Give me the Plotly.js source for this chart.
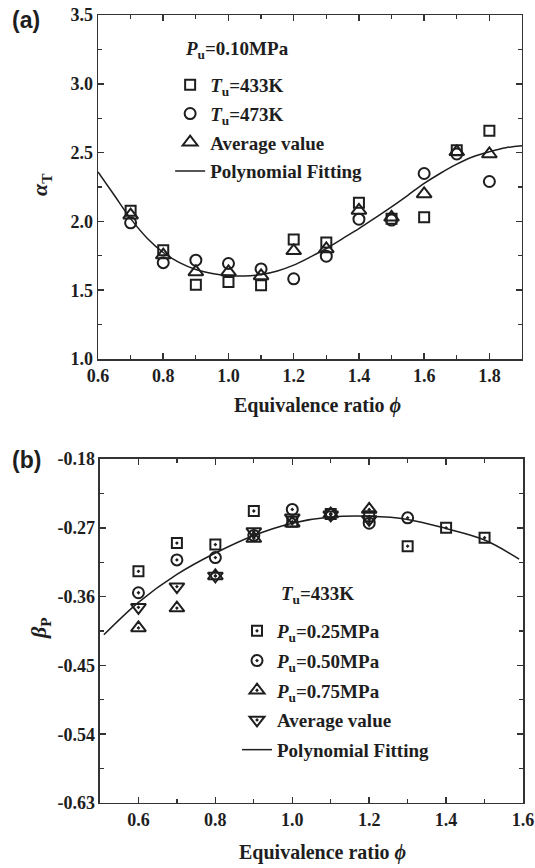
<!DOCTYPE html>
<html>
<head>
<meta charset="utf-8">
<script src="https://cdn.plot.ly/plotly-3.0.1.min.js"></script>
<style>html,body{margin:0;padding:0;background:#fff;}#chart{width:535px;height:868px;}</style>
</head>
<body>
<div id="chart"></div>
<script>
// ---------- Panel (a) data ----------
const phiA = [0.7, 0.8, 0.9, 1.0, 1.1, 1.2, 1.3, 1.4, 1.5, 1.6, 1.7, 1.8];
const alpha433 = [2.077, 1.79, 1.54, 1.56, 1.536, 1.868, 1.847, 2.135, 2.02, 2.03, 2.518, 2.659];
const alpha473 = [1.99, 1.70, 1.718, 1.694, 1.655, 1.583, 1.747, 2.016, 2.01, 2.348, 2.49, 2.29];
const alphaAvg = [2.045, 1.755, 1.633, 1.633, 1.604, 1.786, 1.80, 2.08, 2.03, 2.20, 2.506, 2.49];
const fitPhiA = [0.6, 0.65, 0.7, 0.75, 0.8, 0.85, 0.9, 0.95, 1.0, 1.05, 1.1, 1.15, 1.2, 1.25, 1.3, 1.35, 1.4, 1.45, 1.5, 1.55, 1.6, 1.65, 1.7, 1.75, 1.8, 1.85, 1.9];
const fitAlpha = [2.36, 2.19, 2.02, 1.88, 1.774, 1.70, 1.65, 1.622, 1.607, 1.603, 1.614, 1.64, 1.682, 1.74, 1.803, 1.875, 1.948, 2.026, 2.106, 2.19, 2.276, 2.35, 2.416, 2.47, 2.506, 2.535, 2.55];

// ---------- Panel (b) data ----------
const phiB025 = [0.6, 0.7, 0.8, 0.9, 1.0, 1.1, 1.2, 1.3, 1.4, 1.5];
const beta025 = [-0.327, -0.290, -0.292, -0.248, -0.262, -0.252, -0.255, -0.294, -0.270, -0.283];
const phiB050 = [0.6, 0.7, 0.8, 0.9, 1.0, 1.1, 1.2, 1.3];
const beta050 = [-0.355, -0.312, -0.309, -0.280, -0.246, -0.252, -0.264, -0.257];
const phiB075 = [0.6, 0.7, 0.8, 0.9, 1.0, 1.1, 1.2];
const beta075 = [-0.401, -0.375, -0.333, -0.284, -0.264, -0.252, -0.246];
const phiBAvg = [0.6, 0.7, 0.8, 0.9, 1.0, 1.1, 1.2];
const betaAvg = [-0.374, -0.347, -0.333, -0.275, -0.257, -0.253, -0.259];
const fitPhiB = [0.51, 0.6, 0.7, 0.8, 0.9, 1.0, 1.1, 1.2, 1.3, 1.4, 1.5, 1.59];
const fitBeta = [-0.41, -0.3675, -0.331, -0.303, -0.280, -0.264, -0.256, -0.255, -0.259, -0.271, -0.286, -0.311];

// tick labels
const yTickValsB = [-0.63, -0.54, -0.45, -0.36, -0.27, -0.18];
const yTickTextB = ['-0.63', '-0.54', '-0.45', '-0.36', '-0.27', '-0.18'];

const INK = '#1e1e1e';
const SERIF = 'Liberation Serif';
const tickFont = {family: SERIF, size: 18, color: INK, weight: 'bold'};
const legFont = {family: SERIF, size: 19, color: INK, weight: 'bold'};

function mk(x, y, sym, name, xa, ya, leg, size) {
  return {x: x, y: y, type: 'scatter', mode: 'markers', name: name,
    xaxis: xa, yaxis: ya, legend: leg, legendgroup: name + leg,
    marker: {symbol: sym, size: size || 10, color: INK, line: {color: INK, width: 2}}};
}

const traces = [
  mk(phiA, alpha433, 'square-open', '<i>T</i><sub>u</sub>=433K', 'x', 'y', 'legend', 10),
  mk(phiA, alpha473, 'circle-open', '<i>T</i><sub>u</sub>=473K', 'x', 'y', 'legend', 11),
  mk(phiA, alphaAvg, 'triangle-up-open', 'Average value', 'x', 'y', 'legend', 13),
  {x: fitPhiA, y: fitAlpha, type: 'scatter', mode: 'lines', name: 'Polynomial Fitting',
   xaxis: 'x', yaxis: 'y', legend: 'legend', legendgroup: 'fitA', line: {color: INK, width: 1.5, shape: 'spline'}},

  mk(phiB025, beta025, 'square-open-dot', '<i>P</i><sub>u</sub>=0.25MPa', 'x2', 'y2', 'legend2', 10),
  mk(phiB050, beta050, 'circle-open-dot', '<i>P</i><sub>u</sub>=0.50MPa', 'x2', 'y2', 'legend2', 11),
  mk(phiB075, beta075, 'triangle-up-open-dot', '<i>P</i><sub>u</sub>=0.75MPa', 'x2', 'y2', 'legend2', 13),
  mk(phiBAvg, betaAvg, 'triangle-down-open-dot', 'Average value', 'x2', 'y2', 'legend2', 13),
  {x: fitPhiB, y: fitBeta, type: 'scatter', mode: 'lines', name: 'Polynomial Fitting',
   xaxis: 'x2', yaxis: 'y2', legend: 'legend2', legendgroup: 'fitB', line: {color: INK, width: 1.5, shape: 'spline'}}
];

function axis(extra) {
  return Object.assign({
    showline: true, linecolor: '#333', linewidth: 1.5, mirror: 'ticks',
    ticks: 'inside', ticklen: 6, tickwidth: 1.5, tickcolor: '#333',
    showgrid: false, zeroline: false, tickfont: tickFont
  }, extra);
}

function ann(text, x, y, size, family, angle) {
  return {text: text, xref: 'paper', yref: 'paper', x: x / 535, y: 1 - y / 868,
    xanchor: 'center', yanchor: 'middle', showarrow: false, textangle: angle || 0,
    font: {family: family || SERIF, size: size, color: INK, weight: 'bold'}};
}

const layout = {
  width: 535, height: 868,
  margin: {l: 0, r: 0, t: 0, b: 0},
  paper_bgcolor: '#fff', plot_bgcolor: '#fff',
  showlegend: true,
  xaxis: axis({domain: [0.1832, 0.9757], range: [0.6, 1.9], anchor: 'y', tick0: 0.6, dtick: 0.2, tickformat: '.1f',
    minor: {ticks: 'inside', ticklen: 4, tickwidth: 1.2, tickcolor: '#333', dtick: 0.1, tick0: 0.6}}),
  yaxis: axis({domain: [0.5864, 0.9827], range: [1.0, 3.5], anchor: 'x', tick0: 1.0, dtick: 0.5, tickformat: '.1f',
    minor: {ticks: 'inside', ticklen: 4, tickwidth: 1.2, tickcolor: '#333', dtick: 0.25, tick0: 1.0}}),
  xaxis2: axis({domain: [0.1869, 0.9776], range: [0.5, 1.6], anchor: 'y2', tick0: 0.6, dtick: 0.2, tickformat: '.1f',
    minor: {ticks: 'inside', ticklen: 4, tickwidth: 1.2, tickcolor: '#333', dtick: 0.1, tick0: 0.5}}),
  yaxis2: axis({domain: [0.0749, 0.4712], range: [-0.63, -0.18], anchor: 'x2', tickmode: 'array',
    tickvals: yTickValsB, ticktext: yTickTextB,
    minor: {ticks: 'inside', ticklen: 4, tickwidth: 1.2, tickcolor: '#333', dtick: 0.045, tick0: -0.18}}),
  legend: {x: 0.318, y: 1 - 66 / 868, xanchor: 'left', yanchor: 'top', bgcolor: 'rgba(0,0,0,0)',
    font: legFont, tracegroupgap: 1},
  legend2: {x: 0.443, y: 1 - 612 / 868, xanchor: 'left', yanchor: 'top', bgcolor: 'rgba(0,0,0,0)',
    font: legFont, tracegroupgap: 2},
  annotations: [
    ann('(a)', 26, 20, 23, 'Liberation Sans'),
    ann('(b)', 26, 460, 23, 'Liberation Sans'),
    ann('<i>α</i><sub>T</sub>', 41, 185, 22, SERIF, -90),
    ann('<i>β</i><sub>P</sub>', 40, 628, 22, SERIF, -90),
    ann('Equivalence ratio <i>ϕ</i>', 317, 405, 20),
    ann('Equivalence ratio <i>ϕ</i>', 322, 852, 20),
    Object.assign(ann('<i>P</i><sub>u</sub>=0.10MPa', 183, 50, 19), {xanchor: 'left'}),
    Object.assign(ann('<i>T</i><sub>u</sub>=433K', 279, 595, 19), {xanchor: 'left'})
  ]
};

Plotly.newPlot('chart', traces, layout, {staticPlot: true, displayModeBar: false});
</script>
</body>
</html>
